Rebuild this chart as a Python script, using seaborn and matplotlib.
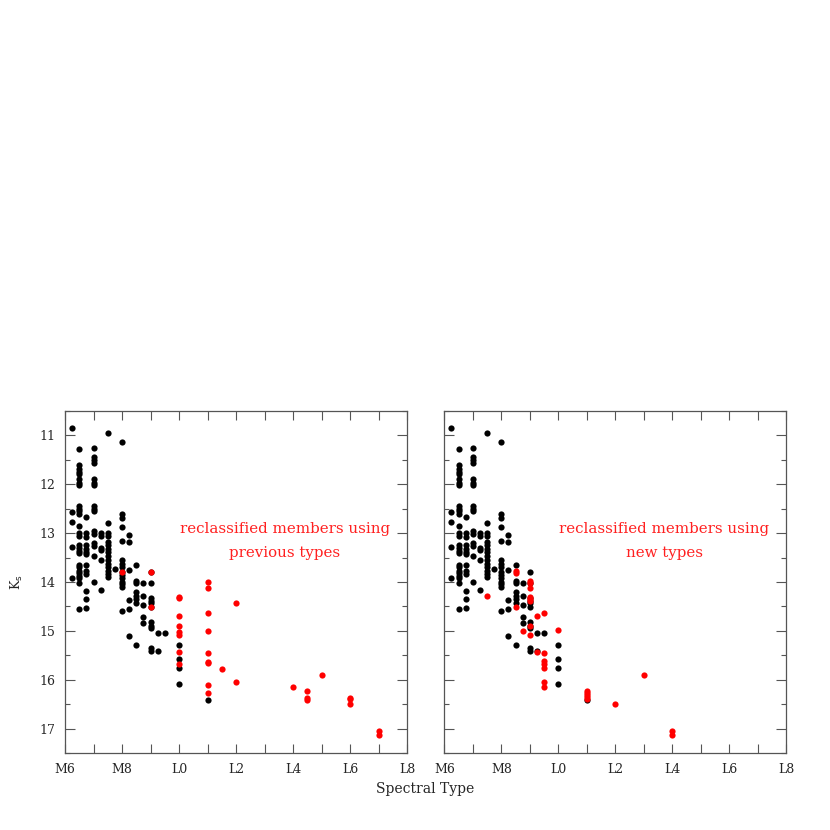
import matplotlib
matplotlib.use("Agg")
import matplotlib.pyplot as plt
import seaborn as sns
import pandas as pd
from matplotlib.ticker import MultipleLocator, FixedLocator, FixedFormatter

# ---------------- data ----------------
# spectral type numeric: M6=6 ... M9=9, L0=10 ... L8=18
black_spt = [
    6.25, 6.25, 6.25, 6.25, 6.25,
    6.5, 6.5, 6.5, 6.5, 6.5, 6.5, 6.5, 6.5, 6.5, 6.5, 6.5, 6.5, 6.5, 6.5,
    6.5, 6.5, 6.5, 6.5, 6.5, 6.5, 6.5, 6.5, 6.5, 6.5, 6.5, 6.5, 6.5,
    6.75, 6.75, 6.75, 6.75, 6.75, 6.75, 6.75, 6.75, 6.75, 6.75, 6.75, 6.75, 6.75,
    7.0, 7.0, 7.0, 7.0, 7.0, 7.0, 7.0, 7.0, 7.0, 7.0, 7.0, 7.0, 7.0, 7.0, 7.0, 7.0,
    7.25, 7.25, 7.25, 7.25, 7.25, 7.25,
    7.5, 7.5, 7.5, 7.5, 7.5, 7.5, 7.5, 7.5, 7.5, 7.5, 7.5, 7.5, 7.5, 7.5, 7.5,
    7.75,
    8.0, 8.0, 8.0, 8.0, 8.0, 8.0, 8.0, 8.0, 8.0, 8.0, 8.0, 8.0, 8.0, 8.0, 8.0,
    8.25, 8.25, 8.25, 8.25, 8.25, 8.25,
    8.5, 8.5, 8.5, 8.5, 8.5, 8.5, 8.5, 8.5,
    8.75, 8.75, 8.75, 8.75, 8.75,
    9.0, 9.0, 9.0, 9.0, 9.0, 9.0, 9.0, 9.0, 9.0, 9.0, 9.0,
    9.25, 9.25,
    9.5,
    10.0, 10.0, 10.0, 10.0,
    11.0,
]
black_ks = [
    10.84, 12.57, 12.77, 13.29, 13.91,
    11.27, 11.61, 11.68, 11.74, 11.79, 11.90, 11.97, 12.02, 12.44, 12.50, 12.55, 12.60, 12.85, 12.99,
    13.06, 13.25, 13.30, 13.36, 13.40, 13.65, 13.70, 13.77, 13.81, 13.87, 13.92, 14.02, 14.55,
    12.66, 13.00, 13.07, 13.25, 13.32, 13.38, 13.43, 13.65, 13.77, 13.84, 14.18, 14.35, 14.54,
    11.25, 11.45, 11.50, 11.56, 11.90, 11.97, 12.02, 12.44, 12.50, 12.55, 12.96, 13.01, 13.20, 13.26, 13.46, 13.99,
    13.00, 13.05, 13.30, 13.35, 13.55, 14.17,
    10.95, 12.79, 12.99, 13.05, 13.18, 13.25, 13.32, 13.39, 13.46, 13.55, 13.63, 13.70, 13.77, 13.83, 13.89,
    13.74,
    11.14, 12.60, 12.69, 12.87, 13.16, 13.55, 13.63, 13.69, 13.79, 13.86, 13.92, 13.99, 14.05, 14.10, 14.59,
    13.03, 13.18, 13.75, 14.37, 14.55, 15.11,
    13.65, 13.97, 14.02, 14.21, 14.28, 14.35, 14.42, 15.29,
    14.02, 14.29, 14.47, 14.72, 14.83,
    13.79, 14.02, 14.33, 14.38, 14.42, 14.52, 14.81, 14.90, 14.94, 15.36, 15.41,
    15.05, 15.41,
    15.05,
    15.29, 15.57, 15.75, 16.09,
    16.41,
]

prev_spt = [
    8.0, 9.0, 9.0,
    10.0, 10.0, 10.0, 10.0, 10.0, 10.0, 10.0, 10.0,
    11.0, 11.0, 11.0, 11.0, 11.0, 11.0, 11.0, 11.0, 11.0,
    11.5, 12.0, 12.0, 14.0, 14.5, 14.5, 14.5, 15.0, 16.0, 16.0, 16.0, 17.0, 17.0,
]
prev_ks = [
    13.79, 13.80, 14.52,
    14.30, 14.33, 14.69, 14.90, 15.03, 15.08, 15.43, 15.67,
    13.99, 14.13, 14.64, 15.00, 15.46, 15.63, 15.65, 16.11, 16.28,
    15.78, 14.43, 16.04, 16.15, 16.24, 16.38, 16.41, 15.90, 16.37, 16.40, 16.50, 17.05, 17.14,
]

new_spt = [
    7.5, 8.5, 8.5, 8.5, 8.75,
    9.0, 9.0, 9.0, 9.0, 9.0, 9.0, 9.0, 9.0,
    9.25, 9.25,
    9.5, 9.5, 9.5, 9.5, 9.5, 9.5, 9.5,
    10.0, 11.0, 11.0, 11.0, 11.0, 11.0, 12.0, 13.0, 14.0, 14.0,
]
new_ks = [
    14.29, 13.77, 13.81, 14.52, 15.01,
    13.98, 14.03, 14.13, 14.30, 14.35, 14.39, 14.90, 15.08,
    14.69, 15.43,
    14.63, 15.45, 15.62, 15.67, 15.76, 16.04, 16.15,
    14.98, 16.24, 16.28, 16.32, 16.36, 16.40, 16.50, 15.90, 17.05, 17.14,
]

xtick_pos = [6, 7, 8, 9, 10, 11, 12, 13, 14, 15, 16, 17, 18]
xtick_lab = ["M6", "", "M8", "", "L0", "", "L2", "", "L4", "", "L6", "", "L8"]
ytick_pos = [11, 12, 13, 14, 15, 16, 17]
panel_notes = [("reclassified members using", "previous types"),
               ("reclassified members using", "new types")]

# ---------------- plotting ----------------
sns.set_theme(style="white")
plt.rcParams["font.family"] = ["DejaVu Serif"]

fig = plt.figure(figsize=(8.3, 8.3), dpi=100)
W, H = 830.0, 830.0
ax_l = fig.add_axes([65 / W, 1 - 753 / H, 342 / W, 342 / H])
ax_r = fig.add_axes([444.3 / W, 1 - 753 / H, 342 / W, 342 / H])

df_black = pd.DataFrame({"spt": black_spt, "ks": black_ks})
df_prev = pd.DataFrame({"spt": prev_spt, "ks": prev_ks})
df_new = pd.DataFrame({"spt": new_spt, "ks": new_ks})

spine_col = "#555555"
for ax, df_red, notes in [(ax_l, df_prev, panel_notes[0]), (ax_r, df_new, panel_notes[1])]:
    sns.scatterplot(data=df_black, x="spt", y="ks", ax=ax, color="black",
                    s=20, linewidth=0, zorder=3, legend=False)
    sns.scatterplot(data=df_red, x="spt", y="ks", ax=ax, color="#ff0000",
                    s=20, linewidth=0, zorder=4, legend=False)
    ax.set_xlim(6, 18)
    ax.set_ylim(17.5, 10.5)
    ax.xaxis.set_major_locator(FixedLocator(xtick_pos))
    ax.xaxis.set_major_formatter(FixedFormatter(xtick_lab))
    ax.yaxis.set_major_locator(FixedLocator(ytick_pos))
    ax.yaxis.set_minor_locator(MultipleLocator(0.5))
    ax.tick_params(axis="x", which="major", direction="in", length=6.5, width=0.8,
                   color=spine_col, top=True, bottom=True, labelsize=9, pad=7)
    ax.tick_params(axis="y", which="major", direction="in", length=7, width=0.8,
                   color=spine_col, left=True, right=True, labelsize=9, pad=7)
    ax.tick_params(axis="y", which="minor", direction="in", length=3.5, width=0.8,
                   color=spine_col, left=True, right=True)
    for sp in ax.spines.values():
        sp.set_color(spine_col)
        sp.set_linewidth(0.9)
        sp.set_visible(True)
    ax.set_xlabel("")
    ax.set_ylabel("")
    ax.text(13.72, 12.91, notes[0], color="#ff2020", fontsize=10.8,
            ha="center", va="center")
    ax.text(13.72, 13.40, notes[1], color="#ff2020", fontsize=10.8,
            ha="center", va="center")

ax_r.tick_params(axis="y", which="both", labelleft=False)
ax_l.set_ylabel("K$_{\\rm s}$", fontsize=9, labelpad=10)
fig.text(425 / W, 1 - 789 / H, "Spectral Type", ha="center", va="center", fontsize=10)

fig.savefig("out.png", dpi=100, facecolor="white")
